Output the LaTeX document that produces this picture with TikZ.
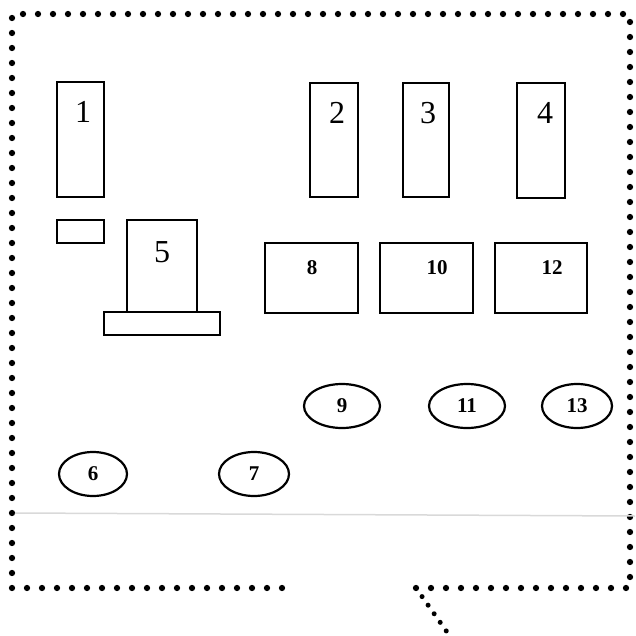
\documentclass[tikz,border=0pt]{standalone}
\usepackage{fontspec}
\setmainfont{Liberation Serif}
\usetikzlibrary{shapes.geometric}
\begin{document}
\begin{tikzpicture}[x=1pt,y=-1pt,
  rbox/.style={draw=black, line width=2.2pt, rectangle, inner sep=0pt},
  oval/.style={draw=black, line width=2.2pt, ellipse, minimum width=68pt, minimum height=44pt, inner sep=0pt, font=\fontsize{21}{21}\selectfont\bfseries},
  numlab/.style={inner sep=0pt, font=\fontsize{32}{32}\selectfont},
  boldlab/.style={inner sep=0pt, font=\fontsize{21}{21}\selectfont\bfseries},
  dotline/.style={line width=6.3pt, line cap=round, dash pattern=on 0pt off 15pt}]
\useasboundingbox (0,0) rectangle (635,636);
% border
\coordinate (p1) at (282,588);
\coordinate (p2) at (12,588);
\coordinate (p3) at (12,14);
\coordinate (p4) at (630,14);
\coordinate (p5) at (630,588);
\coordinate (p6) at (416,588);
\coordinate (p7) at (447,632);
\draw[dotline] (p1) -- (p2) -- (p3) -- (p4) -- (p5) -- (p6);
\draw[dotline, line width=5pt, dash pattern=on 0pt off 10.5pt] (p6) -- (p7);
% faint scan line
\coordinate (s1) at (15,513);
\coordinate (s2) at (635,516);
\draw[black!15, line width=1.5pt] (s1) -- (s2);
% tall boxes
\node[rbox, minimum width=47pt, minimum height=115pt] (b1) at (80.5,139.5) {};
\node[numlab] (l1) at (83,112) {1};
\node[rbox, minimum width=48pt, minimum height=114pt] (b2) at (334,140) {};
\node[numlab] (l2) at (337,113) {2};
\node[rbox, minimum width=46pt, minimum height=114pt] (b3) at (426,140) {};
\node[numlab] (l3) at (428,113) {3};
\node[rbox, minimum width=48pt, minimum height=115pt] (b4) at (541,140.5) {};
\node[numlab] (l4) at (545,113) {4};
% small box
\node[rbox, minimum width=47pt, minimum height=23pt] (sb) at (80.5,231.5) {};
% box 5 with base
\node[rbox, minimum width=70pt, minimum height=92pt] (b5) at (162,266) {};
\node[numlab] (l5) at (162,252) {5};
\node[rbox, minimum width=116pt, minimum height=23pt] (base) at (162,323.5) {};
% wide boxes
\node[rbox, minimum width=93pt, minimum height=70pt] (b8) at (311.5,278) {};
\node[boldlab] (l8) at (312,268) {8};
\node[rbox, minimum width=93pt, minimum height=70pt] (b10) at (426.5,278) {};
\node[boldlab] (l10) at (437,268) {10};
\node[rbox, minimum width=92pt, minimum height=70pt] (b12) at (541,278) {};
\node[boldlab] (l12) at (552,268) {12};
% ovals
\node[oval] (o6) at (93,474) {6};
\node[oval, minimum width=70pt] (o7) at (254,474) {7};
\node[oval, minimum width=76pt] (o9) at (342,406) {9};
\node[oval, minimum width=76pt] (o11) at (467,406) {11};
\node[oval, minimum width=70pt] (o13) at (577,406) {13};
\end{tikzpicture}
\end{document}
